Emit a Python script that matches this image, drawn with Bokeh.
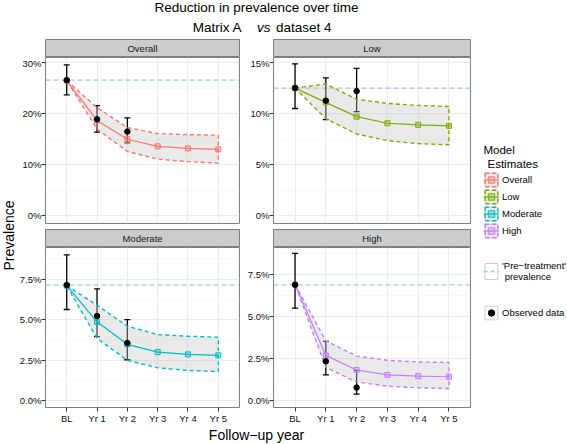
import math
from bokeh.plotting import figure
from bokeh.models import (Range1d, FactorRange, FixedTicker, NumeralTickFormatter, Span,
                          Label, Whisker, TeeHead, ColumnDataSource, Legend, LegendItem)
from bokeh.layouts import column, row
from bokeh.embed import file_html
from bokeh.resources import INLINE

FONT = "Liberation Sans"
NAN = float("nan")

years = ["BL", "Yr 1", "Yr 2", "Yr 3", "Yr 4", "Yr 5"]
obs_years = ["BL", "Yr 1", "Yr 2"]
groups = ["Overall", "Low", "Moderate", "High"]
colors = ["#F8766D", "#7CAE00", "#00BFC4", "#C77CFF"]

# Model estimates (%), with lower / upper uncertainty band
overall_est = [26.5, 18.7, 15.0, 13.6, 13.2, 13.0]
overall_lo = [26.5, 17.0, 12.6, 11.1, 10.6, 10.3]
overall_hi = [26.5, 21.2, 17.3, 16.1, 15.9, 15.8]
low_est = [12.5, 11.1, 9.7, 9.05, 8.9, 8.8]
low_lo = [12.5, 9.5, 8.0, 7.35, 7.05, 6.95]
low_hi = [12.5, 12.9, 11.4, 11.0, 10.8, 10.7]
moderate_est = [7.1, 4.87, 3.48, 3.0, 2.86, 2.8]
moderate_lo = [7.1, 3.85, 2.5, 2.03, 1.87, 1.8]
moderate_hi = [7.1, 5.9, 4.6, 4.08, 3.98, 3.92]
high_est = [6.9, 2.68, 1.81, 1.52, 1.45, 1.41]
high_lo = [6.9, 1.97, 1.1, 0.85, 0.75, 0.71]
high_hi = [6.9, 3.55, 2.64, 2.39, 2.29, 2.26]

# Observed data (%), with error bars
overall_obs = [26.6, 18.9, 16.5]
overall_obs_lo = [23.7, 16.4, 14.3]
overall_obs_hi = [29.6, 21.6, 19.2]
low_obs = [12.5, 11.27, 12.2]
low_obs_lo = [10.5, 9.4, 10.2]
low_obs_hi = [14.87, 13.5, 14.44]
moderate_obs = [7.14, 5.23, 3.56]
moderate_obs_lo = [5.63, 3.96, 2.53]
moderate_obs_hi = [9.0, 6.9, 5.01]
high_obs = [6.88, 2.33, 0.77]
high_obs_lo = [5.49, 1.52, 0.37]
high_obs_hi = [8.75, 3.51, 1.79]

# 'Pre-treatment' prevalence (%)
pretreat = [26.6, 12.5, 7.14, 6.88]

RIBBON = "#C8C8C8"
PRE_COL = "#A3C9DC"


def pct(v):
    return [x / 100.0 for x in v]


def blank(width, height):
    f = figure(width=width, height=height, x_range=Range1d(0, width), y_range=Range1d(0, height),
               x_axis_location=None, y_axis_location=None, toolbar_location=None,
               output_backend="svg", min_border=0, outline_line_color=None)
    f.grid.visible = False
    return f


def make_strip(text, left, width, height):
    s = figure(width=width, height=height, x_range=Range1d(0, 1), y_range=Range1d(0, 1),
               x_axis_location=None, y_axis_location=None, toolbar_location=None,
               output_backend="svg", min_border_left=left, min_border_right=1,
               min_border_top=height - 18, min_border_bottom=0)
    s.grid.visible = False
    s.background_fill_color = "#CCCCCC"
    s.outline_line_color = "#7F7F7F"
    s.add_layout(Label(x=0.5, y=0.5, text=text, text_align="center", text_baseline="middle",
                       text_font_size="9.5px", text_font=FONT, text_color="#1a1a1a"))
    return s


def make_panel(i, est, lo, hi, obs, obs_lo, obs_hi, yr, ticks, minor, fmt,
               left, width, height, bottom, xaxis):
    c = colors[i]
    p = figure(width=width, height=height,
               x_range=FactorRange(factors=years, range_padding=0.2, range_padding_units="absolute"),
               y_range=Range1d(yr[0], yr[1]),
               x_axis_location="below" if xaxis else None,
               toolbar_location=None, output_backend="svg",
               min_border_left=left, min_border_right=1, min_border_top=0, min_border_bottom=bottom)
    p.background_fill_color = "white"
    p.outline_line_color = "#7F7F7F"
    p.xgrid.grid_line_color = "#EBEBEB"
    p.ygrid.grid_line_color = "#EBEBEB"
    p.ygrid.minor_grid_line_color = "#F6F6F6"

    p.yaxis.ticker = FixedTicker(ticks=ticks, minor_ticks=minor)
    p.yaxis.formatter = NumeralTickFormatter(format=fmt)
    axes = list(p.yaxis) + (list(p.xaxis) if xaxis else [])
    for ax in axes:
        ax.axis_line_color = None
        ax.major_tick_line_color = "#333333"
        ax.major_tick_in = 0
        ax.major_tick_out = 4
        ax.minor_tick_line_color = None
        ax.major_label_standoff = 1
        ax.major_label_text_font = FONT
        ax.major_label_text_font_size = "9.5px"
        ax.major_label_text_color = "#111111"
    p.yaxis.major_label_standoff = 0

    span = Span(location=pretreat[i] / 100.0, dimension="width", line_color=PRE_COL,
                line_dash="5 3", line_width=1.3, level="underlay")
    p.add_layout(span)

    p.patch(x=years + years[::-1], y=pct(hi) + pct(lo)[::-1], fill_color=RIBBON, fill_alpha=0.38,
            line_color=c, line_dash="4 3", line_width=1.4)
    p.line(x=years, y=pct(est), line_color=c, line_width=1.2)
    p.scatter(x=years, y=pct(est), marker="square", size=5, line_color=c, fill_color=c,
              fill_alpha=0.35, line_width=1)

    src = ColumnDataSource(dict(x=obs_years, lower=pct(obs_lo), upper=pct(obs_hi)))
    w = Whisker(source=src, base="x", upper="upper", lower="lower", dimension="height",
                line_color="black", line_width=1.3,
                upper_head=TeeHead(size=6, line_color="black", line_width=1.3),
                lower_head=TeeHead(size=6, line_color="black", line_width=1.3))
    p.add_layout(w)
    p.scatter(x=obs_years, y=pct(obs), marker="circle", size=5.5, color="black")
    return p


# geometry (content starts at the page's top-left corner)
YL_W = 16
LB, RB = 26, 33
LW, RW = LB + 197 + 1, RB + 197 + 1
TITLE_H = 38
XLAB_H = 17
TOP_STRIP_H, BOT_STRIP_H = 19, 18
TOP_PANEL_H, BOT_PANEL_H = 172, 179
MID_H = TOP_STRIP_H + TOP_PANEL_H + BOT_STRIP_H + BOT_PANEL_H
LEG_W = 95
TOTAL_W = YL_W + LW + RW + LEG_W

strip_tl = make_strip("Overall", LB, LW, TOP_STRIP_H)
panel_tl = make_panel(0, overall_est, overall_lo, overall_hi, overall_obs, overall_obs_lo,
                      overall_obs_hi, (-0.0155, 0.3105), [0, 0.1, 0.2, 0.3], [0.05, 0.15, 0.25],
                      "0%", LB, LW, TOP_PANEL_H, 6, False)
strip_bl = make_strip("Moderate", LB, LW, BOT_STRIP_H)
panel_bl = make_panel(2, moderate_est, moderate_lo, moderate_hi, moderate_obs, moderate_obs_lo,
                      moderate_obs_hi, (-0.0042, 0.0946), [0, 0.025, 0.05, 0.075],
                      [0.0125, 0.0375, 0.0625, 0.0875], "0.0%", LB, LW, BOT_PANEL_H, 16, True)
strip_tr = make_strip("Low", RB, RW, TOP_STRIP_H)
panel_tr = make_panel(1, low_est, low_lo, low_hi, low_obs, low_obs_lo, low_obs_hi,
                      (-0.0078, 0.155), [0, 0.05, 0.10, 0.15], [0.025, 0.075, 0.125],
                      "0%", RB, RW, TOP_PANEL_H, 6, False)
strip_br = make_strip("High", RB, RW, BOT_STRIP_H)
panel_br = make_panel(3, high_est, high_lo, high_hi, high_obs, high_obs_lo, high_obs_hi,
                      (-0.0042, 0.091), [0, 0.025, 0.05, 0.075],
                      [0.0125, 0.0375, 0.0625, 0.0875], "0.0%", RB, RW, BOT_PANEL_H, 16, True)

left_col = column(strip_tl, panel_tl, strip_bl, panel_bl, spacing=0)
right_col = column(strip_tr, panel_tr, strip_br, panel_br, spacing=0)

# Title
title_fig = blank(TOTAL_W, TITLE_H)
title_fig.add_layout(Label(x=256, y=TITLE_H - 7, text="Reduction in prevalence over time",
                           text_align="center", text_baseline="middle", text_font=FONT,
                           text_font_size="13.5px", text_color="black"))
title_fig.add_layout(Label(x=245.5, y=TITLE_H - 27, text="Matrix  A", text_align="right",
                           text_baseline="middle", text_font=FONT, text_font_size="13.5px",
                           text_color="black"))
title_fig.add_layout(Label(x=256.5, y=TITLE_H - 27, text="vs", text_align="left",
                           text_baseline="middle", text_font=FONT, text_font_size="13.5px",
                           text_font_style="italic", text_color="black"))
title_fig.add_layout(Label(x=275.5, y=TITLE_H - 27, text="dataset 4", text_align="left",
                           text_baseline="middle", text_font=FONT, text_font_size="13.5px",
                           text_color="black"))

# Y axis title
ylab = blank(YL_W, MID_H)
ylab.add_layout(Label(x=8, y=MID_H - (235 - TITLE_H), text="Prevalence", angle=math.pi / 2,
                      text_align="center", text_baseline="middle", text_font=FONT,
                      text_font_size="14px", text_color="black"))

# X axis title
xlab = blank(TOTAL_W, XLAB_H)
xlab.add_layout(Label(x=256, y=8.6, text="Follow\u2212up year", text_align="center",
                      text_baseline="middle", text_font=FONT, text_font_size="14px",
                      text_color="black"))

# Legend
lg = blank(LEG_W, MID_H)


def fy(page_y):
    return MID_H - (page_y - TITLE_H)


lg.add_layout(Label(x=12, y=fy(149), text="Model", text_baseline="middle", text_font=FONT,
                    text_font_size="11.5px", text_color="black"))
lg.add_layout(Label(x=16, y=fy(163), text="Estimates", text_baseline="middle", text_font=FONT,
                    text_font_size="11.5px", text_color="black"))

model_items = []
for g, c in zip(groups, colors):
    r_box = lg.patch(x=[NAN], y=[NAN], fill_color="white", line_color="#CCCCCC")
    r_rib = lg.patch(x=[NAN], y=[NAN], fill_color=RIBBON, fill_alpha=0.38, line_color=c,
                     line_dash="4 3", line_width=1.4)
    r_line = lg.line(x=[NAN], y=[NAN], line_color=c, line_width=1.2)
    r_pt = lg.scatter(x=[NAN], y=[NAN], marker="square", size=5, line_color=c, fill_color=c,
                      fill_alpha=0.35)
    model_items.append(LegendItem(label=g, renderers=[r_box, r_rib, r_line, r_pt]))

pre_box = lg.patch(x=[NAN], y=[NAN], fill_color="white", line_color="#CCCCCC")
pre_line = lg.line(x=[NAN], y=[NAN], line_color=PRE_COL, line_dash="4 3", line_width=1.3)
obs_box = lg.patch(x=[NAN], y=[NAN], fill_color="white", line_color="#CCCCCC")
obs_pt = lg.scatter(x=[NAN], y=[NAN], marker="circle", size=5, color="black")


def style_legend(leg, gh):
    leg.padding = 0
    leg.margin = 0
    leg.spacing = 0
    leg.glyph_width = 16
    leg.glyph_height = gh
    leg.label_height = gh
    leg.label_standoff = 3
    leg.label_text_font = FONT
    leg.label_text_font_size = "9.5px"
    leg.label_text_color = "black"
    leg.border_line_color = None
    leg.background_fill_alpha = 0
    return leg


leg1 = style_legend(Legend(items=model_items, location=(12, fy(239))), 17)
leg2 = style_legend(Legend(items=[LegendItem(label="'Pre\u2212treatment'\n prevalence",
                                             renderers=[pre_box, pre_line])],
                           location=(12, fy(282))), 20)
leg3 = style_legend(Legend(items=[LegendItem(label="Observed data", renderers=[obs_box, obs_pt])],
                           location=(12, fy(321))), 17)
for leg in (leg1, leg2, leg3):
    lg.add_layout(leg)

layout = column(title_fig, row(ylab, left_col, right_col, lg, spacing=0), xlab, spacing=0)

open("out.html", "w").write(file_html(layout, INLINE))
